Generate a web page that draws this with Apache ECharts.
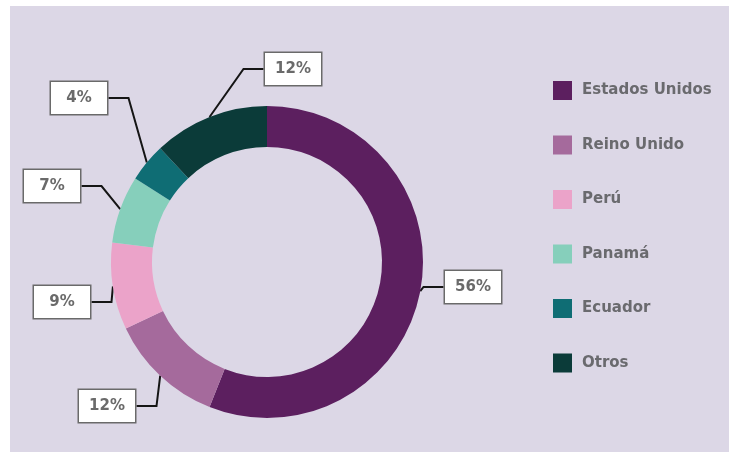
<!DOCTYPE html>
<html>
<head>
<meta charset="utf-8">
<style>
  html, body { margin: 0; padding: 0; background: #ffffff; }
  #chart { width: 729px; height: 452px; }
</style>
<script src="https://cdn.jsdelivr.net/npm/echarts@6/dist/echarts.min.js"></script>
</head>
<body>
<div id="chart"></div>
<script>
// Data
const categories = ['Estados Unidos', 'Reino Unido', 'Perú', 'Panamá', 'Ecuador', 'Otros'];
const shares = [56, 12, 9, 7, 4, 12];

// Styles / layout (kept apart from the data)
const colors = ['#5c1f5f', '#a56a9c', '#eba3c9', '#86cfbb', '#0f6d74', '#0b3b39'];
const labelBoxes = [   // top-left corner of each label box
  [445, 271],
  [79, 390],
  [34, 286],
  [24, 170],
  [51, 82],
  [265, 53]
];
const BOX_W = 56;

const chart = echarts.init(document.getElementById('chart'), null, { renderer: 'canvas' });

chart.setOption({
  animation: false,
  backgroundColor: '#ffffff',
  graphic: [{
    type: 'rect',
    z: -10,
    silent: true,
    shape: { x: 10, y: 6, width: 719, height: 446 },
    style: { fill: '#dcd7e6' }
  }],
  legend: {
    orient: 'vertical',
    left: 548,
    top: 76,
    itemWidth: 19,
    itemHeight: 19,
    itemGap: 35.5,
    icon: 'rect',
    data: categories,
    textStyle: {
      color: '#6a6a6e',
      fontSize: 15,
      fontWeight: 'bold',
      fontFamily: 'DejaVu Sans',
      padding: [0, 0, 0, 5]
    }
  },
  series: [{
    type: 'pie',
    center: [267, 262],
    radius: [115, 156],
    startAngle: 90,
    clockwise: true,
    avoidLabelOverlap: false,
    emphasis: { disabled: true },
    color: colors,
    data: categories.map((name, i) => ({ name: name, value: shares[i] })),
    label: {
      show: true,
      formatter: '{c}%',
      color: '#6a6a6a',
      fontSize: 15,
      fontWeight: 'bold',
      fontFamily: 'DejaVu Sans',
      backgroundColor: '#ffffff',
      borderColor: '#6a6a6a',
      borderWidth: 1.5,
      width: BOX_W - 16,
      lineHeight: 18,
      align: 'center',
      padding: [7, 8]
    },
    labelLine: {
      show: true,
      length: 10,
      length2: 20,
      smooth: false,
      lineStyle: { color: '#151515', width: 2 }
    },
    labelLayout: function (params) {
      const p = labelBoxes[params.dataIndex];
      return { x: p[0] + BOX_W / 2, y: p[1], align: 'center', verticalAlign: 'top' };
    }
  }]
});
</script>
</body>
</html>
